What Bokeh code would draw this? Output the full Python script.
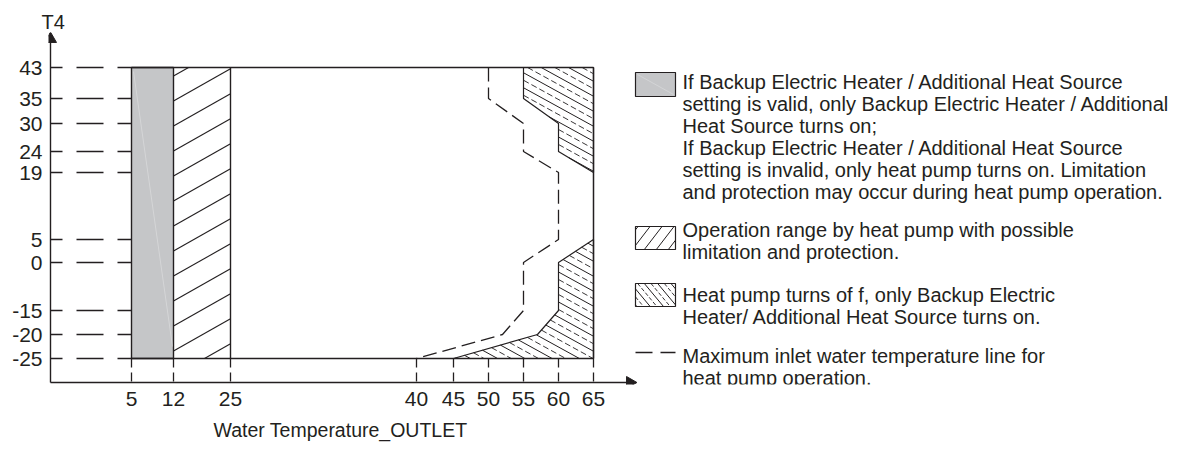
import numpy as np
from bokeh.plotting import figure
from bokeh.models import Range1d, FixedTicker, Title
from bokeh.core.properties import value
from bokeh.embed import file_html
from bokeh.resources import INLINE

# ---------------- data ----------------
x_ticks = [5, 12, 25, 40, 45, 50, 55, 60, 65]          # water outlet temperature
y_ticks = [-25, -20, -15, 0, 5, 19, 24, 30, 35, 43]    # T4 ambient
x_tick_labels = [str(v) for v in x_ticks]
y_tick_labels = [str(v) for v in y_ticks]

t4_range = [-25, 43]
water_range = [5, 65]
backup_zone = [5, 12]        # backup heater zone
limited_zone = [12, 25]      # heat pump with limitation / protection

off_top_x = [55, 65, 65, 60, 60, 55]
off_top_y = [43, 43, 19, 24, 30, 35]
off_bot_x = [65, 60, 60, 57, 45, 65]
off_bot_y = [5, 0, -15, -20, -25, -25]

inlet_x = [50, 50, 55, 55, 60, 60, 55, 55, 52, 40]
inlet_y = [43, 35, 30, 24, 19, 5, 0, -15, -20, -25]

legend_lines = [
    ["If Backup Electric Heater / Additional Heat Source",
     "setting is valid, only Backup Electric Heater / Additional",
     "Heat Source turns on;",
     "If Backup Electric Heater / Additional Heat Source",
     "setting is invalid, only heat pump turns on. Limitation",
     "and protection may occur during heat pump operation."],
    ["Operation range by heat pump with possible",
     "limitation and protection."],
    ["Heat pump turns of f, only Backup Electric",
     "Heater/ Additional Heat Source turns on."],
    ["Maximum inlet water temperature line for",
     "heat pump operation."],
]
x_title = "Water Temperature_OUTLET"
y_title = "T4"

# ---------------- schematic (non-linear) axis layout ----------------
x_slot = [83, 125, 182, 368, 405, 440, 475, 510, 545]
y_slot = [26, 50, 74, 122, 145, 212, 233, 261, 286, 317]


def tx(v):
    return np.interp(np.asarray(v, float), x_ticks, x_slot)


def ty(v):
    return np.interp(np.asarray(v, float), y_ticks, y_slot)


def hatch(px, py, slope, spacing, phase=0.0):
    px = np.asarray(px, float)
    py = np.asarray(py, float)
    cv = py - slope * px
    k0 = int(np.ceil((cv.min() - phase) / spacing))
    k1 = int(np.floor((cv.max() - phase) / spacing))
    xs, ys = [], []
    n = len(px)
    for k in range(k0, k1 + 1):
        c = phase + k * spacing
        f = py - slope * px - c
        hits = []
        for i in range(n):
            j = (i + 1) % n
            if (f[i] < 0) != (f[j] < 0):
                t = f[i] / (f[i] - f[j])
                hits.append(px[i] + t * (px[j] - px[i]))
        hits.sort()
        for a, b in zip(hits[0::2], hits[1::2]):
            if b - a > 0.8:
                xs.append([a, b])
                ys.append([slope * a + c, slope * b + c])
    return xs, ys


DARK = "#231f20"
GRAY = "#c5c6c8"
FONT = "Liberation Sans"

W, H = 1195, 451
top_title = Title(text=y_title, align="left", offset=-7, standoff=0,
                  text_font=FONT, text_font_size="20px",
                  text_font_style="normal", text_color=DARK)
p = figure(width=W, height=H, output_backend="svg", toolbar_location=None,
           title=top_title,
           x_range=Range1d(0, 1147), y_range=Range1d(0, 352),
           min_border_left=48, min_border_right=0, min_border_top=32,
           min_border_bottom=67)
p.grid.visible = False
p.outline_line_color = None

for ax in (p.xaxis[0], p.yaxis[0]):
    ax.axis_line_color = None
    ax.major_tick_line_color = None
    ax.minor_tick_line_color = None
    ax.major_tick_out = 0
    ax.major_tick_in = 0
    ax.minor_tick_out = 0
    ax.major_label_text_font = FONT
    ax.major_label_text_font_size = "21px"
    ax.major_label_text_color = DARK
    ax.major_label_standoff = 6
p.xaxis[0].major_label_standoff = 7
p.xaxis[0].ticker = FixedTicker(ticks=x_slot)
p.xaxis[0].major_label_overrides = {s: l for s, l in zip(x_slot, x_tick_labels)}
p.yaxis[0].ticker = FixedTicker(ticks=y_slot)
p.yaxis[0].major_label_overrides = {s: l for s, l in zip(y_slot, y_tick_labels)}

p.add_layout(Title(text=x_title, align="left", offset=165, standoff=16,
                   text_font=FONT, text_font_size="19.5px",
                   text_font_style="normal", text_color=DARK), "below")

x5, x12, x25, x65 = tx([backup_zone[0], backup_zone[1], limited_zone[1], water_range[1]])
yb, yt = ty(t4_range)

# gray backup zone (with the faint scan streak of the original)
p.quad(left=[tx(backup_zone[0])], right=[tx(backup_zone[1])], bottom=[yb], top=[yt],
       fill_color=GRAY, line_color=DARK, line_width=1.4)
p.line([x5 + 2, x12 - 1], [yt - 4, yb + 12], line_color="white", line_alpha=0.4,
       line_width=0.7)

# "/" hatch for limited zone
bx = [x12, x25, x25, x12]
by = [yb, yb, yt, yt]
hx, hy = hatch(bx, by, 0.565, 25.0, phase=(315.7 - 0.565 * x25) % 25.0)
p.multi_line(hx, hy, line_color=DARK, line_width=1.1)

# heat pump off regions
for rx, ry in ((off_top_x, off_top_y), (off_bot_x, off_bot_y)):
    qx, qy = tx(rx), ty(ry)
    sx, sy = hatch(qx, qy, -0.55, 15.0, phase=3.0)
    p.multi_line(sx, sy, line_color=DARK, line_width=1.0)
    dx, dy = hatch(qx, qy, -0.55, 15.0, phase=10.5)
    p.multi_line(dx, dy, line_color=DARK, line_width=0.9, line_dash="6 3")
    p.patch(list(qx), list(qy), fill_color=None, line_color=DARK, line_width=1.2)

# frame of the operating map
p.line(tx(water_range), [yt, yt], line_color=DARK, line_width=1.5)
p.line(tx(water_range), [yb, yb], line_color=DARK, line_width=1.5)
p.line([x65, x65], [yb, yt], line_color=DARK, line_width=1.5)
p.line([x25, x25], [yb, yt], line_color=DARK, line_width=1.4)

# maximum inlet water temperature line
p.line(tx(inlet_x), ty(inlet_y), line_color=DARK, line_width=1.3, line_dash="14 6")

# guide lines to the axes
gy = ty(y_ticks)
p.multi_line([[x5, 2] for _ in gy], [[g, g] for g in gy], line_color=DARK,
             line_width=1.3, line_dash="27 14", line_dash_offset=13)
gx = tx(x_ticks)
p.multi_line([[g, g] for g in gx], [[yb, 2] for _ in gx], line_color=DARK,
             line_width=1.3, line_dash="9 5")

# axes with arrow heads
AX0 = 2
p.line([AX0, 579], [AX0, AX0], line_color=DARK, line_width=1.4)
p.line([AX0, AX0], [AX0, 343], line_color=DARK, line_width=1.4)
p.scatter(x=[581.5], y=[AX0], marker="triangle", size=12, angle=-np.pi / 2,
          fill_color=DARK, line_color=DARK)
p.scatter(x=[AX0], y=[345.5], marker="triangle", size=12,
          fill_color=DARK, line_color=DARK)

# ---------------- legend ----------------
LX0, LX1 = 587, 627
p.quad(left=[LX0], right=[LX1], bottom=[288], top=[312], fill_color=GRAY,
       line_color=DARK, line_width=1.2)
p.line([LX0 + 2, LX1 - 2], [310, 290], line_color="white", line_alpha=0.35,
       line_width=0.7)
sw2 = ([LX0, LX1, LX1, LX0], [135, 135, 158, 158])
hx, hy = hatch(*sw2, 1.3, 15.6, phase=0.0)
p.multi_line(hx, hy, line_color=DARK, line_width=1.0)
p.quad(left=[LX0], right=[LX1], bottom=[135], top=[158], fill_color=None,
       line_color=DARK, line_width=1.2)
sw3 = ([LX0, LX1, LX1, LX0], [78, 78, 101, 101])
hx, hy = hatch(*sw3, -1.2, 16.0, phase=0.0)
p.multi_line(hx, hy, line_color=DARK, line_width=1.0)
hx, hy = hatch(*sw3, -1.2, 16.0, phase=8.0)
p.multi_line(hx, hy, line_color=DARK, line_width=0.9, line_dash="4 2")
p.quad(left=[LX0], right=[LX1], bottom=[78], top=[101], fill_color=None,
       line_color=DARK, line_width=1.2)
p.line([LX0, LX1], [32, 32], line_color=DARK, line_width=1.3, line_dash="17 8")

baselines = [[303, 281, 259, 237, 215, 193],
             [155, 133],
             [90, 68],
             [29, 7]]
tx_list, ty_list, tt_list = [], [], []
for lines, bls in zip(legend_lines, baselines):
    for t, b in zip(lines, bls):
        tx_list.append(634)
        ty_list.append(b)
        tt_list.append(t)
p.text(x=tx_list, y=ty_list, text=tt_list, text_align="left",
       text_baseline="alphabetic", text_font=value(FONT),
       text_font_size="20px", text_color=DARK)

open("out.html", "w").write(file_html(p, INLINE))
